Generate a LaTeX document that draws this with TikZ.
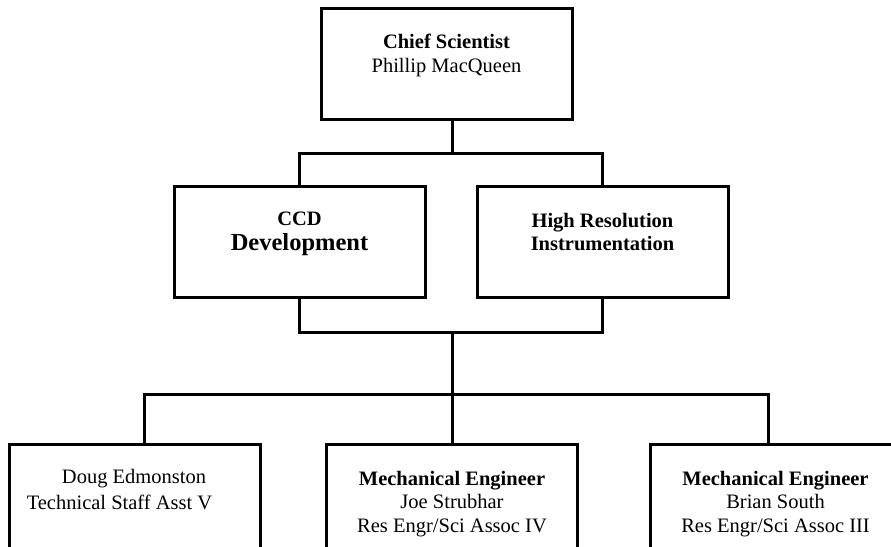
\documentclass[tikz,border=0pt]{standalone}
\usepackage{fontspec}
\setmainfont{Liberation Serif}
\usetikzlibrary{calc}
\begin{document}
\begin{tikzpicture}[x=1pt,y=-1pt,
  orgbox/.style={draw=black, line width=3pt, fill=white, minimum width=251pt,
    minimum height=111pt, inner sep=0pt},
  label/.style={align=center, inner sep=0pt,
    font=\fontsize{20.5}{23.5}\selectfont},
  link/.style={draw=black, line width=3pt}]
\useasboundingbox (0,0) rectangle (891,546);
\clip (0,0) rectangle (891,546);

% boxes
\node[orgbox] (chief) at (446.5,63.5) {};
\node[orgbox] (ccd)   at (299.5,241.5) {};
\node[orgbox] (hri)   at (602.5,241.5) {};
\node[orgbox] (doug)  at (134.5,499.5) {};
\node[orgbox] (joe)   at (452,499.5) {};
\node[orgbox] (brian) at (775.5,499.5) {};

% junction points of the connectors
\coordinate (j1) at (452,153);
\coordinate (j2) at (452,332);
\coordinate (j3) at (452,394);

% connectors
\draw[link] (chief.south -| j1) -- (j1);
\draw[link] (ccd.north) |- (j1) -| (hri.north);
\draw[link] (ccd.south) |- (j2) -| (hri.south);
\draw[link] (j2) -- (j3);
\draw[link] ($(doug.north)+(10,0)$) |- (j3) -| ($(brian.north)+(-7,0)$);
\draw[link] (j3) -- (joe.north);

% texts
\node[label] (chieft) at (446.5,55.5) {\textbf{Chief Scientist}\\Phillip MacQueen};
\node[label] (ccdt) at (299.5,234) {\textbf{CCD}\\[1pt]{\fontsize{24.5}{26}\selectfont\textbf{Development}}};
\node[label] (hrit) at (602.5,232) {\textbf{High Resolution}\\\textbf{Instrumentation}};
\node[label] (dougn) at (134,479) {Doug Edmonston};
\node[label] (dougr) at (119.5,502) {Technical Staff Asst V};
\node[label] (joet) at (452,504) {\textbf{Mechanical Engineer}\\Joe Strubhar\\Res Engr/Sci Assoc IV};
\node[label] (briant) at (775.5,504) {\textbf{Mechanical Engineer}\\Brian South\\Res Engr/Sci Assoc III};
\end{tikzpicture}
\end{document}
